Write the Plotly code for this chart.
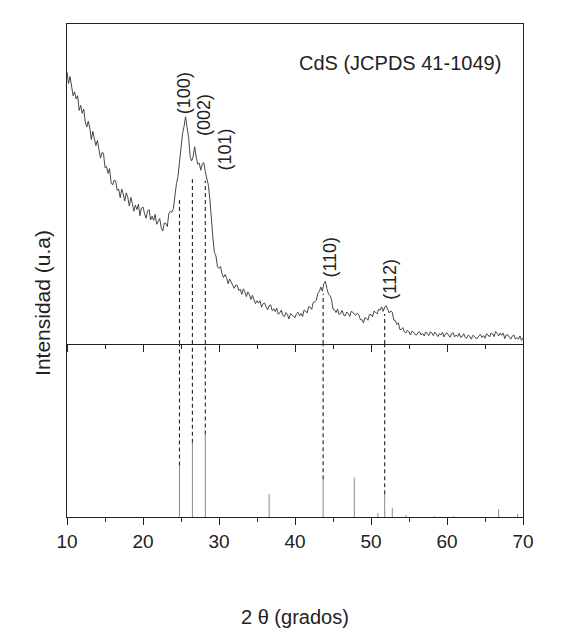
import plotly.graph_objects as go

# ---------------- data ----------------
# measured pattern: 2-theta grid 10..70 step 0.2, intensity (a.u.)
two_theta_start = 10.0
two_theta_step = 0.2
intensity = [
    85.0, 81.4, 83.6, 80.7, 77.6, 78.8, 76.6, 77.6, 73.0, 74.6,   # 10.0-11.8
    72.1, 73.4, 69.4, 67.8, 69.6, 67.5, 63.9, 66.4, 64.5, 62.0,   # 12
    63.6, 60.7, 58.1, 59.8, 59.6, 55.1, 55.5, 53.3, 54.8, 50.4,   # 14
    49.7, 51.2, 51.0, 48.0, 48.4, 45.7, 48.4, 46.9, 44.7, 47.2,   # 16
    45.8, 43.1, 45.8, 43.8, 41.5, 43.4, 42.0, 43.7, 40.1, 42.5,   # 18
    42.8, 40.8, 39.3, 41.5, 42.0, 38.8, 39.9, 38.6, 40.5, 37.4,   # 20
    38.1, 39.2, 36.3, 35.3, 37.8, 37.7, 36.7, 40.8, 41.4, 41.2,   # 22
    42.3, 46.6, 50.1, 52.3, 57.1, 59.6, 65.7, 68.0, 71.0, 67.6,   # 24
    64.6, 58.6, 57.2, 58.6, 61.6, 58.4, 56.2, 56.5, 54.3, 56.3,   # 26
    56.7, 53.8, 51.0, 49.6, 45.2, 37.3, 33.2, 28.5, 27.5, 24.1,   # 28
    23.6, 24.2, 21.9, 20.8, 21.7, 20.7, 18.8, 20.3, 19.3, 18.1,   # 30
    17.4, 18.4, 18.3, 16.7, 17.1, 15.5, 17.2, 16.3, 14.8, 16.3,   # 32
    15.5, 13.9, 15.2, 13.9, 12.6, 13.5, 12.8, 13.5, 11.5, 12.6,   # 34
    12.8, 11.6, 10.7, 12.0, 12.2, 10.4, 11.0, 10.1, 11.2, 9.3,    # 36
    9.7, 10.6, 8.9, 8.5, 9.8, 9.2, 7.8, 9.5, 9.0, 8.4,            # 38
    8.2, 9.5, 9.9, 8.8, 9.5, 8.6, 10.6, 10.3, 9.7, 11.6,          # 40
    11.5, 10.8, 13.0, 13.1, 13.6, 15.8, 16.3, 17.8, 16.5, 18.9,   # 42
    19.6, 17.3, 15.6, 15.1, 14.0, 10.9, 10.7, 9.8, 10.9, 9.2,     # 44
    9.5, 10.5, 9.0, 8.8, 10.0, 9.5, 8.6, 10.2, 9.9, 9.3,          # 46
    9.0, 9.6, 9.1, 7.6, 7.6, 6.6, 8.2, 8.0, 7.4, 9.2,             # 48
    9.2, 8.5, 10.3, 9.9, 9.4, 10.8, 10.6, 11.6, 10.2, 11.5,       # 50
    11.9, 10.8, 9.7, 10.3, 9.9, 7.5, 7.3, 6.1, 6.6, 4.5,          # 52
    4.5, 5.1, 3.8, 3.4, 4.3, 3.8, 2.8, 4.0, 3.7, 3.0,             # 54
    2.8, 3.6, 3.8, 2.8, 3.3, 2.5, 3.7, 3.3, 2.6, 3.8,             # 56
    3.5, 2.6, 3.7, 3.1, 2.3, 3.2, 2.8, 3.6, 2.2, 3.2,             # 58
    3.5, 2.8, 2.1, 3.2, 3.5, 2.2, 2.8, 2.3, 3.3, 2.0,             # 60
    2.3, 3.2, 2.0, 1.8, 2.8, 2.4, 1.5, 2.7, 2.4, 1.8,             # 62
    1.7, 2.6, 2.9, 2.0, 2.6, 1.8, 3.2, 2.8, 2.2, 3.4,             # 64
    3.2, 2.3, 3.9, 3.3, 2.5, 3.4, 2.7, 3.4, 1.7, 2.8,             # 66
    2.9, 2.1, 1.5, 2.5, 2.8, 1.5, 2.0, 1.5, 2.5, 1.1,             # 68
    1.9,                                                          # 70
]
two_theta = [round(two_theta_start + i * two_theta_step, 1) for i in range(len(intensity))]

# reference pattern JCPDS 41-1049 (stick positions / relative intensities)
ref_pos = [24.8, 26.5, 28.2, 36.6, 43.7, 47.8, 50.9, 51.8, 52.8, 54.6, 58.3, 60.9, 66.8, 69.3]
ref_int = [62.6, 90.0, 100.0, 27.7, 45.8, 48.0, 4.8, 27.7, 10.8, 2.4, 1.0, 1.0, 9.6, 3.6]

# indexed reflections (dashed guides)
hkl_labels = ["(100)", "(002)", "(101)", "(110)", "(112)"]
hkl_pos = [24.8, 26.5, 28.2, 43.7, 51.8]
hkl_ref_int = [62.6, 90.0, 100.0, 45.8, 27.7]
hkl_obs_top = [45.8, 51.5, 51.0, 15.7, 9.4]

x_ticks = [10, 20, 30, 40, 50, 60, 70]
x_tick_labels = ["10", "20", "30", "40", "50", "60", "70"]

# ---------------- figure ----------------
FONT = "Liberation Sans, Arial, sans-serif"
REF_MAX = 210
fig = go.Figure()

# measured curve (upper panel)
fig.add_trace(go.Scatter(x=two_theta, y=intensity, mode="lines",
                         line=dict(color="#333333", width=0.9),
                         xaxis="x", yaxis="y", showlegend=False, hoverinfo="skip"))

# reference sticks (lower panel)
sx, sy = [], []
for p, v in zip(ref_pos, ref_int):
    sx += [p, p, None]
    sy += [0, v, None]
fig.add_trace(go.Scatter(x=sx, y=sy, mode="lines",
                         line=dict(color="#8a8a8a", width=1),
                         xaxis="x2", yaxis="y2", showlegend=False, hoverinfo="skip"))

# dashed guides: lower part (stick top -> panel top) and upper part (panel bottom -> curve)
lx, ly, ux, uy = [], [], [], []
for p, r, t in zip(hkl_pos, hkl_ref_int, hkl_obs_top):
    lx += [p, p, None]
    ly += [r, REF_MAX, None]
    ux += [p, p, None]
    uy += [0, t, None]
fig.add_trace(go.Scatter(x=lx, y=ly, mode="lines",
                         line=dict(color="#222", width=1.1, dash="4px,3px"),
                         xaxis="x2", yaxis="y2", showlegend=False, hoverinfo="skip"))
fig.add_trace(go.Scatter(x=ux, y=uy, mode="lines",
                         line=dict(color="#222", width=1.1, dash="4px,3px"),
                         xaxis="x", yaxis="y", showlegend=False, hoverinfo="skip"))

split = 0.351
common_x = dict(range=[10, 70], showgrid=False, zeroline=False, showline=True,
                linecolor="#222", linewidth=1.2, ticks="outside", tickcolor="#222",
                tickvals=x_ticks, ticklen=7, tickwidth=1.2,
                minor=dict(dtick=5, tick0=10, ticks="outside", ticklen=4,
                           tickcolor="#222", tickwidth=1.2))

annotations = [
    dict(text="CdS (JCPDS 41-1049)", xref="paper", yref="paper", x=0.73, y=0.921,
         xanchor="center", yanchor="middle",
         showarrow=False, font=dict(family=FONT, size=20, color="#222")),
    dict(text="Intensidad (u.a)", xref="paper", yref="paper", x=-0.055, y=0.434,
         xanchor="center", yanchor="middle",
         textangle=-90, showarrow=False, font=dict(family=FONT, size=21, color="#222")),
    dict(text="2 θ (grados)", xref="paper", yref="paper", x=0.501, y=-0.203,
         xanchor="center", yanchor="middle",
         showarrow=False, font=dict(family=FONT, size=20, color="#222")),
]
label_xy = [(25.4, 78.4), (28.0, 71.5), (30.8, 60.8), (44.6, 27.3), (52.5, 20.1)]
for lab, (lxp, lyp) in zip(hkl_labels, label_xy):
    annotations.append(dict(text=lab, x=lxp, y=lyp, xref="x", yref="y", textangle=-90,
                            xanchor="center", yanchor="middle",
                            showarrow=False, font=dict(family=FONT, size=18, color="#222")))

fig.update_layout(
    width=563, height=644,
    margin=dict(l=59, r=48, t=16, b=135),
    paper_bgcolor="white", plot_bgcolor="white",
    font=dict(family=FONT, size=19, color="#222"),
    xaxis=dict(common_x, anchor="y", showticklabels=False, mirror=True),
    yaxis=dict(domain=[split, 1], range=[0, 100], anchor="x", showgrid=False,
               zeroline=False, showline=True, linecolor="#222", linewidth=1.2,
               mirror=True, showticklabels=False, ticks=""),
    xaxis2=dict(common_x, anchor="y2", ticktext=x_tick_labels, showticklabels=True,
                tickfont=dict(family=FONT, size=19, color="#222")),
    yaxis2=dict(domain=[0, split], range=[0, REF_MAX], anchor="x2", showgrid=False,
                zeroline=False, showline=True, linecolor="#222", linewidth=1.2,
                mirror=True, showticklabels=False, ticks=""),
    annotations=annotations,
)

fig.write_html("out.html")
